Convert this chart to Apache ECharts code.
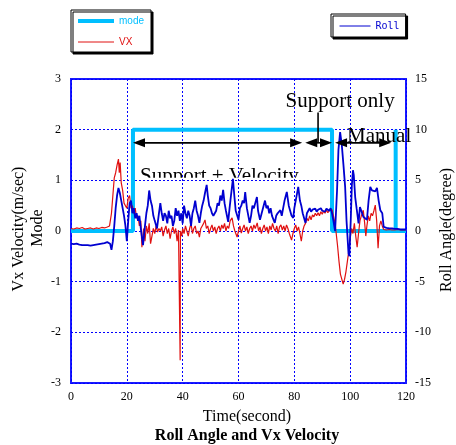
<!DOCTYPE html>
<html><head><meta charset="utf-8">
<script src="https://cdn.jsdelivr.net/npm/echarts@6/dist/echarts.min.js"></script>
<style>html,body{margin:0;padding:0;background:#fff}#c{width:456px;height:445px}</style>
</head><body><div id="c"></div>
<script>
// ---- data ----
const modeSeries = [[0,0],[22.2,0],[22.2,2],[93.5,2],[93.5,0],[116.3,0],[116.3,2],[116.3,0],[120,0]];
const vxSeries = [
[0,0.05],[1,0.04],[2,0.06],[3,0.05],[4,0.07],[5,0.04],[6,0.05],[7,0.06],[8,0.04],[9,0.06],[10,0.05],[11,0.07],[12,0.06],[13,0.08],[13.8,0.1],
[14.5,0.35],[15,0.7],[15.5,1.05],[16,1.15],[16.5,1.3],[17,1.42],[17.3,1.15],[17.6,1.35],[18,0.95],[18.5,0.8],[19,0.55],[19.5,0.5],[20,0.45],
[20.5,0.65],[21,0.7],[21.5,0.45],[22,0.5],[22.5,0.35],[23,0.45],[23.5,0.25],[24,0.3],[24.5,0.1],[25,0.2],[25.4,-0.32],[26,0.05],[26.5,-0.2],
[27,0.1],[27.5,-0.05],[28,0.15],[28.5,-0.25],[29,-0.1],[29.5,0.05],[30,-0.05],[30.5,0.1],[31,-0.02],[31.5,0.05],[32,0.0],[32.5,0.08],[33,-0.1],
[33.5,0.02],[34,0.1],[34.5,-0.05],[35,0.05],[35.5,-0.15],[36,0.0],[36.5,0.08],[37,-0.05],[37.5,0.05],[38,-0.2],[38.5,0.02],[39,0.0],[39.1,-2.55],
[39.2,0.0],[39.7,-0.1],[40,0.05],[40.5,-0.05],[41,0.1],[41.5,0.0],[42,-0.1],[42.5,0.05],[43,0.15],[43.5,-0.05],[44,0.05],[44.5,0.1],[45,-0.05],
[45.5,0.0],[46,-0.12],[46.5,0.05],[47,0.1],[47.5,0.15],[48,0.22],[48.5,0.05],[49,0.1],[49.5,-0.05],[50,0.05],[50.5,0.12],[51,0.0],[51.5,0.08],
[52,-0.05],[52.5,0.05],[53,0.1],[53.5,0.0],[54,0.12],[54.5,0.05],[55,0.15],[55.5,0.0],[56,0.1],[56.5,0.05],[57,0.2],[57.7,0.26],[58.2,0.1],
[58.7,0.0],[59.5,-0.12],[60,0.0],[60.5,0.1],[61,-0.04],[61.5,0.05],[62,0.12],[62.5,0.0],[63,0.08],[63.5,-0.05],[64,0.05],[64.5,0.1],[65,0.0],
[65.5,0.12],[66,0.05],[66.7,0.16],[67.2,0.0],[67.7,0.08],[68.2,-0.05],[68.7,0.05],[69.2,0.12],[69.7,0.0],[70.2,0.08],[70.7,-0.05],[71.2,0.1],
[71.7,0.02],[72.2,0.15],[72.7,0.05],[73.2,0.0],[73.7,0.1],[74.2,-0.05],[74.7,0.08],[75.2,0.12],[75.7,0.02],[76.2,0.1],[76.7,0.0],[77.2,0.12],
[77.7,0.05],[78.2,-0.05],[79,-0.18],[79.5,-0.05],[80,0.05],[80.5,0.12],[81,0.0],[81.5,0.08],[82,-0.05],[82.5,-0.2],[83,0.0],[83.5,0.1],
[84,0.15],[84.5,0.25],[85,0.2],[85.5,0.3],[86,0.22],[86.5,0.32],[87,0.28],[87.5,0.35],[88,0.3],[88.5,0.36],[89,0.3],[89.5,0.38],[90,0.33],
[90.5,0.4],[91,0.35],[91.5,0.42],[92,0.36],[92.5,0.4],[93,0.38],[93.5,0.42],[94,0.3],[94.6,0.15],[95,-0.05],[95.5,-0.3],[96,-0.6],[96.5,-0.85],
[97,-0.95],[97.5,-1.05],[98,-0.95],[98.5,-0.8],[99,-0.6],[99.5,-0.4],[100,-0.15],[100.5,0.05],[101,-0.05],[101.5,0.15],[102,-0.1],[102.5,-0.32],
[103,-0.05],[103.5,0.2],[104,0.3],[104.7,0.41],[105.2,0.15],[105.6,-0.1],[106,0.1],[106.5,0.3],[107,0.2],[107.5,0.35],[108,0.3],[108.5,0.4],
[109,0.51],[109.5,0.2],[110,-0.34],[110.5,0.1],[111,0.2],[111.5,0.1],[112,0.03],[113,0.02],[114,0.03],[115,0.02],[116,0.02],[117,0.03],
[118,0.02],[119,0.02],[120,0.02]
];
const rollSeries = [
[0,-1.25],[1,-1.3],[2,-1.25],[3,-1.35],[4,-1.4],[5,-1.4],[6,-1.4],[7,-1.45],[8,-1.4],[9,-1.35],[10,-1.3],[11,-1.25],[12,-1.2],[13,-1.1],
[14,-1.25],[14.5,-1.85],[15,-1.0],[15.5,0.5],[16,2.25],[16.5,3.5],[17,4.25],[17.5,3.75],[18,3.0],[18.5,2.25],[19,1.5],[19.5,0.5],[20,-1.0],
[20.5,1.0],[21,2.75],[21.5,3.0],[22,1.75],[22.5,2.25],[23,1.25],[23.5,1.75],[24,1.0],[24.5,1.5],[25,0.25],[25.8,-1.4],[26.5,0.5],[27,1.75],
[27.5,2.5],[28,4.0],[28.5,3.0],[29,2.5],[29.5,1.5],[30,1.0],[30.8,0.25],[31.5,1.75],[32,2.75],[32.5,1.75],[33,1.0],[33.5,1.75],[34,1.5],
[34.5,0.75],[35,2.0],[35.5,1.25],[36,1.5],[36.5,0.5],[37,1.0],[37.5,2.25],[38,1.5],[38.5,2.0],[39,1.0],[39.5,1.75],[40,0.75],[40.5,2.5],
[41,1.75],[41.5,1.25],[42,2.0],[42.5,1.5],[43,0.5],[43.5,1.75],[44,2.25],[44.5,3.0],[45,2.0],[45.5,1.5],[46,0.8],[46.5,1.75],[47,2.5],
[47.5,3.0],[48,3.75],[48.6,4.55],[49,3.5],[49.5,2.5],[50,2.25],[50.5,1.75],[51,1.5],[51.6,1.4],[52,2.0],[52.5,2.75],[53,2.5],[53.5,3.5],
[54,3.0],[54.5,4.05],[55,2.75],[55.5,2.0],[56.3,0.9],[56.8,2.25],[57.3,3.5],[58,5.15],[58.5,3.5],[59,2.0],[60,1.1],[60.5,2.25],[61,2.5],
[61.5,3.0],[62,2.75],[62.4,3.85],[63,2.25],[64,0.8],[64.5,1.5],[65,2.5],[65.5,2.25],[66,2.75],[66.6,3.35],[67,2.0],[67.7,1.1],[68.3,1.75],
[69,2.5],[69.5,3.0],[70,2.25],[70.5,2.5],[71,1.75],[71.5,2.25],[72,1.5],[73,0.8],[73.5,1.5],[74,1.75],[75,2.05],[75.5,1.5],[76,2.25],
[76.5,3.0],[77.3,3.85],[78,2.5],[78.5,2.0],[79,1.5],[79.6,1.3],[80,2.25],[80.5,3.0],[81.4,4.35],[82,3.0],[82.5,2.5],[83,1.75],[84,0.8],
[84.5,1.75],[85,2.0],[85.5,2.25],[86,1.9],[86.5,2.1],[87,2.0],[87.5,2.2],[88,1.9],[88.5,2.1],[89,2.0],[89.5,2.25],[90,2.0],[90.5,2.15],
[91,1.9],[91.5,2.2],[92,2.1],[92.5,2.0],[93,2.25],[93.5,1.75],[94,1.0],[94.6,0.0],[95.3,4.0],[95.8,8.0],[96.4,9.75],[97,8.5],[97.6,6.5],
[98.2,4.35],[98.7,1.0],[99.4,-2.2],[99.7,-2.5],[100.2,1.0],[100.6,4.5],[101,6.0],[101.3,5.5],[101.8,3.35],[102.3,2.25],[103,0.75],[103.5,2.35],
[104,2.0],[104.7,1.4],[105.3,1.5],[106,1.1],[106.6,3.0],[107.2,4.35],[107.8,4.0],[108.3,4.05],[109,3.9],[109.6,4.25],[110.2,3.0],[110.8,2.05],
[111.5,1.75],[112,0.4],[113,0.3],[114,0.25],[115,0.25],[116,0.2],[117,0.2],[118,0.15],[119,0.15],[120,0.15]
];
// annotation anchors (data coordinates: time, Vx)
const arrowLevel = 1.74;
const spanSupportVel = [22.2, 82.8];
const spanSupportOnly = [83.9, 93.5];
const spanManual = [94.6, 114.7];

const serif = '"Liberation Serif","Times New Roman",serif';
const BLUE = '#0000d0', RED = '#e01010', CYAN = '#00bfff', FRAME = '#1a1aff';
const chart = echarts.init(document.getElementById('c'), null, {renderer:'canvas'});
const tickLabel = {fontFamily:serif, fontSize:12, color:'#000'};
chart.setOption({
  animation:false,
  grid:{left:71,right:50,top:79,bottom:62,show:true,borderColor:FRAME,borderWidth:2,backgroundColor:'transparent'},
  legend:[
    {data:[{name:'mode',textStyle:{color:CYAN},lineStyle:{width:4}},{name:'VX',textStyle:{color:RED},lineStyle:{width:1}}],
     orient:'vertical',left:71,top:10,itemWidth:36,itemHeight:8,itemGap:11,padding:[6,7,5,5],
     itemStyle:{opacity:0},lineStyle:{width:1},
     backgroundColor:'#fff',borderColor:'#000',borderWidth:1,shadowColor:'#000',shadowOffsetX:2,shadowOffsetY:2,shadowBlur:0.01,
     textStyle:{fontFamily:'"Liberation Sans",sans-serif',fontSize:10},selectedMode:false},
    {data:[{name:'Roll',textStyle:{color:BLUE},lineStyle:{width:1}}],
     orient:'vertical',left:331,top:14,itemWidth:31,itemHeight:8,padding:[7,6,6,8],
     itemStyle:{opacity:0},lineStyle:{width:1},
     backgroundColor:'#fff',borderColor:'#000',borderWidth:1,shadowColor:'#000',shadowOffsetX:2,shadowOffsetY:2,shadowBlur:0.01,
     textStyle:{fontFamily:'"DejaVu Sans Mono",monospace',fontSize:10},selectedMode:false}
  ],
  xAxis:{type:'value',min:0,max:120,interval:20,axisLine:{show:false},axisTick:{show:false},
    axisLabel:Object.assign({margin:8},tickLabel),
    splitLine:{show:true,lineStyle:{type:[2,2],color:'#0000ff',width:1}}},
  yAxis:[
    {type:'value',min:-3,max:3,interval:1,axisLine:{show:false},axisTick:{show:false},
     axisLabel:Object.assign({margin:10},tickLabel),
     splitLine:{show:true,lineStyle:{type:[2,2],color:'#0000ff',width:1}}},
    {type:'value',min:-15,max:15,interval:5,position:'right',axisLine:{show:false},axisTick:{show:false},
     axisLabel:Object.assign({margin:9},tickLabel),splitLine:{show:false}}
  ],
  series:[
    {name:'mode',type:'line',data:modeSeries,symbol:'none',lineStyle:{color:CYAN,width:4},itemStyle:{color:CYAN},z:2},
    {name:'VX',type:'line',data:vxSeries,symbol:'none',lineStyle:{color:RED,width:1.2},itemStyle:{color:RED},z:3},
    {name:'Roll',type:'line',yAxisIndex:1,data:rollSeries,symbol:'none',lineStyle:{color:BLUE,width:1.8},itemStyle:{color:BLUE},z:4}
  ]
});

const P = (t,v) => chart.convertToPixel({xAxisIndex:0,yAxisIndex:0},[t,v]);
function head(x,y,dir){ // dir -1 left-pointing, +1 right-pointing
  return {type:'polygon',shape:{points:[[x,y],[x-dir*12,y-4.5],[x-dir*12,y+4.5]]},style:{fill:'#000'},z:10};
}
function dblArrow(span){
  const a=P(span[0],arrowLevel), b=P(span[1],arrowLevel);
  return [
    {type:'line',shape:{x1:a[0]+4,y1:a[1],x2:b[0]-4,y2:b[1]},style:{stroke:'#000',lineWidth:1.6},z:10},
    head(a[0],a[1],-1), head(b[0],b[1],1)
  ];
}
const g=[];
// "Support + Velocity" (lower part hidden)
const sv=P(24.7,1.07), svClip=P(24.7,1.05), svEnd=P(84,1.05);
g.push({type:'text',x:sv[0],y:sv[1],z:-2,style:{text:'Support + Velocity',font:'21px '+serif,fill:'#000',align:'left',verticalAlign:'middle'}});
g.push({type:'rect',shape:{x:svClip[0]-4,y:svClip[1],width:svEnd[0]-svClip[0]+8,height:16},style:{fill:'#fff'},z:-1});
g.push(...dblArrow(spanSupportVel),...dblArrow(spanSupportOnly),...dblArrow(spanManual));
const so=P(96.4,2.55), vl1=P(88.5,2.34), vl2=P(88.5,arrowLevel);
g.push({type:'text',x:so[0],y:so[1],z:10,style:{text:'Support only',font:'21px '+serif,fill:'#000',align:'center',verticalAlign:'middle'}});
g.push({type:'line',shape:{x1:vl1[0],y1:vl1[1],x2:vl2[0],y2:vl2[1]},style:{stroke:'#000',lineWidth:1.6},z:10});
const mn=P(98.9,1.86);
g.push({type:'text',x:mn[0],y:mn[1],z:10,style:{text:'Manual',font:'21px '+serif,fill:'#000',align:'left',verticalAlign:'middle'}});
// axis names & title
g.push({type:'text',x:19,y:229,rotation:Math.PI/2,style:{text:'Vx Velocity(m/sec)',font:'16px '+serif,fill:'#000',align:'center',verticalAlign:'middle'}});
g.push({type:'text',x:38,y:228,rotation:Math.PI/2,style:{text:'Mode',font:'16px '+serif,fill:'#000',align:'center',verticalAlign:'middle'}});
g.push({type:'text',x:447,y:230,rotation:Math.PI/2,style:{text:'Roll Angle(degree)',font:'16px '+serif,fill:'#000',align:'center',verticalAlign:'middle'}});
g.push({type:'text',x:247,y:417,style:{text:'Time(second)',font:'16px '+serif,fill:'#000',align:'center',verticalAlign:'middle'}});
g.push({type:'text',x:247,y:436,style:{text:'Roll Angle and Vx Velocity',font:'bold 16px '+serif,fill:'#000',align:'center',verticalAlign:'middle'}});
chart.setOption({graphic:{elements:g}});
</script></body></html>
